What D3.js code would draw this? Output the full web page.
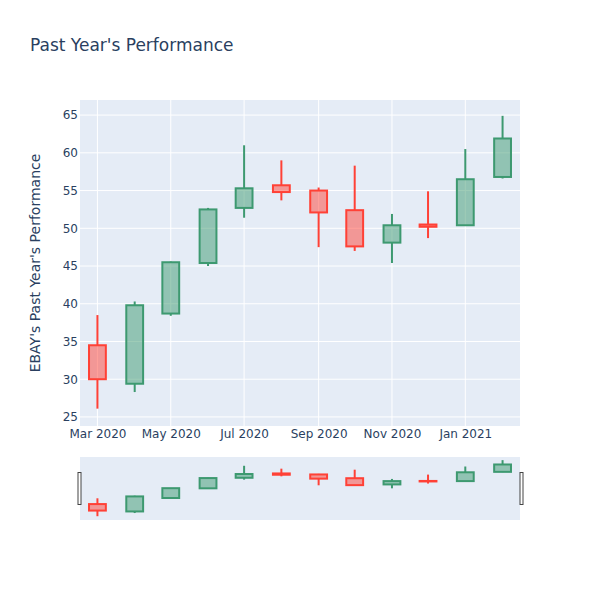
<!DOCTYPE html>
<meta charset="utf-8">
<style>
    body { margin: 0; background: #fff; }
    text { font-family: "DejaVu Sans", verdana, arial, sans-serif; fill: #2a3f5f; }
    .grid line { stroke: #fff; stroke-width: 1px; }
    .axis path, .axis line { display: none; }
    .axis text { font-size: 12px; fill: #2a3f5f; font-family: "DejaVu Sans", sans-serif; }
</style>
<body>
    <svg width="600" height="600"></svg>
</body>
<script src="https://d3js.org/d3.v7.min.js"></script>
<script>

    // monthly candles, one per month
    var dates = ["2020-03-01","2020-04-01","2020-05-01","2020-06-01","2020-07-01","2020-08-01",
                 "2020-09-01","2020-10-01","2020-11-01","2020-12-01","2021-01-01","2021-02-01"];
    var open  = [34.5, 29.4, 38.7, 45.4, 52.7, 55.7, 55.0, 52.4, 48.1, 50.5, 50.4, 56.8];
    var high  = [38.5, 40.3, 45.6, 52.7, 61.0, 59.0, 55.4, 58.3, 51.9, 54.9, 60.5, 64.9];
    var low   = [26.1, 28.3, 38.4, 45.0, 51.4, 53.7, 47.5, 47.0, 45.4, 48.7, 50.3, 56.6];
    var close = [30.0, 39.8, 45.5, 52.5, 55.3, 54.8, 52.1, 47.6, 50.4, 50.2, 56.5, 61.9];
    var yTicks = [25, 30, 35, 40, 45, 50, 55, 60, 65];

    var parse = d3.timeParse("%Y-%m-%d");
    var data = dates.map(function (d, i) {
        return {date: parse(d), o: open[i], h: high[i], l: low[i], c: close[i]};
    });

    var svg = d3.select("svg");
    var plot = {left: 80, right: 520, top: 100, bottom: 426};
    var slider = {top: 457, bottom: 520};

    var incLine = "#3D9970", decLine = "#FF4136";

    // half a month of padding each side, like plotly does
    var x = d3.scaleTime()
            .domain([new Date(2020, 1, 15, 12), new Date(2021, 1, 15, 12)])
            .range([plot.left, plot.right]);

    var y = d3.scaleLinear()
            .domain([23.8, 67])
            .range([plot.bottom, plot.top]);

    var ySlider = d3.scaleLinear()
            .domain([d3.min(low) - 0.2, d3.max(high) + 0.1])
            .range([516.5, 460]);

    var halfW = x(new Date(2020, 2, 8)) - x(new Date(2020, 2, 1));

    // title
    svg.append("text")
            .attr("x", 30)
            .attr("y", 51)
            .style("font-size", "17px")
            .text("Past Year's Performance");

    // plot background
    svg.append("rect")
            .attr("x", plot.left).attr("y", plot.top)
            .attr("width", plot.right - plot.left)
            .attr("height", plot.bottom - plot.top)
            .attr("fill", "#E5ECF6");

    // grid
    var grid = svg.append("g").attr("class", "grid");
    grid.selectAll(".hy")
            .data(yTicks)
            .enter().append("line")
            .attr("x1", plot.left).attr("x2", plot.right)
            .attr("y1", function (d) { return y(d); })
            .attr("y2", function (d) { return y(d); });
    var xTicks = x.ticks(d3.timeMonth.every(2));
    grid.selectAll(".vx")
            .data(xTicks)
            .enter().append("line")
            .attr("y1", plot.top).attr("y2", plot.bottom)
            .attr("x1", function (d) { return x(d); })
            .attr("x2", function (d) { return x(d); });

    // axes
    svg.append("g")
            .attr("class", "axis")
            .attr("transform", "translate(" + (plot.left - 2) + ",0)")
            .call(d3.axisLeft(y).tickValues(yTicks).tickSize(0).tickPadding(0));

    svg.append("g")
            .attr("class", "axis")
            .attr("transform", "translate(0," + (plot.bottom + 3) + ")")
            .call(d3.axisBottom(x).tickValues(xTicks).tickSize(0).tickPadding(0)
                    .tickFormat(d3.timeFormat("%b %Y")));

    svg.append("text")
            .attr("transform", "translate(40," + ((plot.top + plot.bottom) / 2) + ") rotate(-90)")
            .style("text-anchor", "middle")
            .style("font-size", "14px")
            .text("EBAY's Past Year's Performance");

    // wick drawn in two pieces so it doesn't show through the box
    function drawCandles(g, ys, lw) {
        var c = g.selectAll(".candle")
                .data(data)
                .enter().append("g")
                .attr("class", "candle");
        var col = function (d) { return d.c >= d.o ? incLine : decLine; };
        c.append("line")
                .attr("x1", function (d) { return x(d.date); })
                .attr("x2", function (d) { return x(d.date); })
                .attr("y1", function (d) { return ys(d.h); })
                .attr("y2", function (d) { return ys(Math.max(d.o, d.c)); })
                .attr("stroke", col)
                .attr("stroke-width", lw);
        c.append("line")
                .attr("x1", function (d) { return x(d.date); })
                .attr("x2", function (d) { return x(d.date); })
                .attr("y1", function (d) { return ys(Math.min(d.o, d.c)); })
                .attr("y2", function (d) { return ys(d.l); })
                .attr("stroke", col)
                .attr("stroke-width", lw);
        c.append("rect")
                .attr("x", function (d) { return x(d.date) - halfW; })
                .attr("width", halfW * 2)
                .attr("y", function (d) { return ys(Math.max(d.o, d.c)); })
                .attr("height", function (d) { return Math.max(0.5, Math.abs(ys(d.o) - ys(d.c))); })
                .attr("fill", col)
                .attr("fill-opacity", 0.5)
                .attr("stroke", col)
                .attr("stroke-width", lw);
    }

    drawCandles(svg.append("g"), y, 2);

    // range slider
    svg.append("rect")
            .attr("x", plot.left).attr("y", slider.top)
            .attr("width", plot.right - plot.left)
            .attr("height", slider.bottom - slider.top)
            .attr("fill", "#E5ECF6");

    drawCandles(svg.append("g"), ySlider, 2);

    var handleY = (slider.top + slider.bottom) / 2 - 16;
    [plot.left - 1.5, plot.right + 0.5].forEach(function (hx) {
        svg.append("rect")
                .attr("x", hx - 0.5)
                .attr("y", handleY)
                .attr("width", 3)
                .attr("height", 32)
                .attr("fill", "#fff")
                .attr("stroke", "#444")
                .attr("stroke-width", 1);
    });

</script>
